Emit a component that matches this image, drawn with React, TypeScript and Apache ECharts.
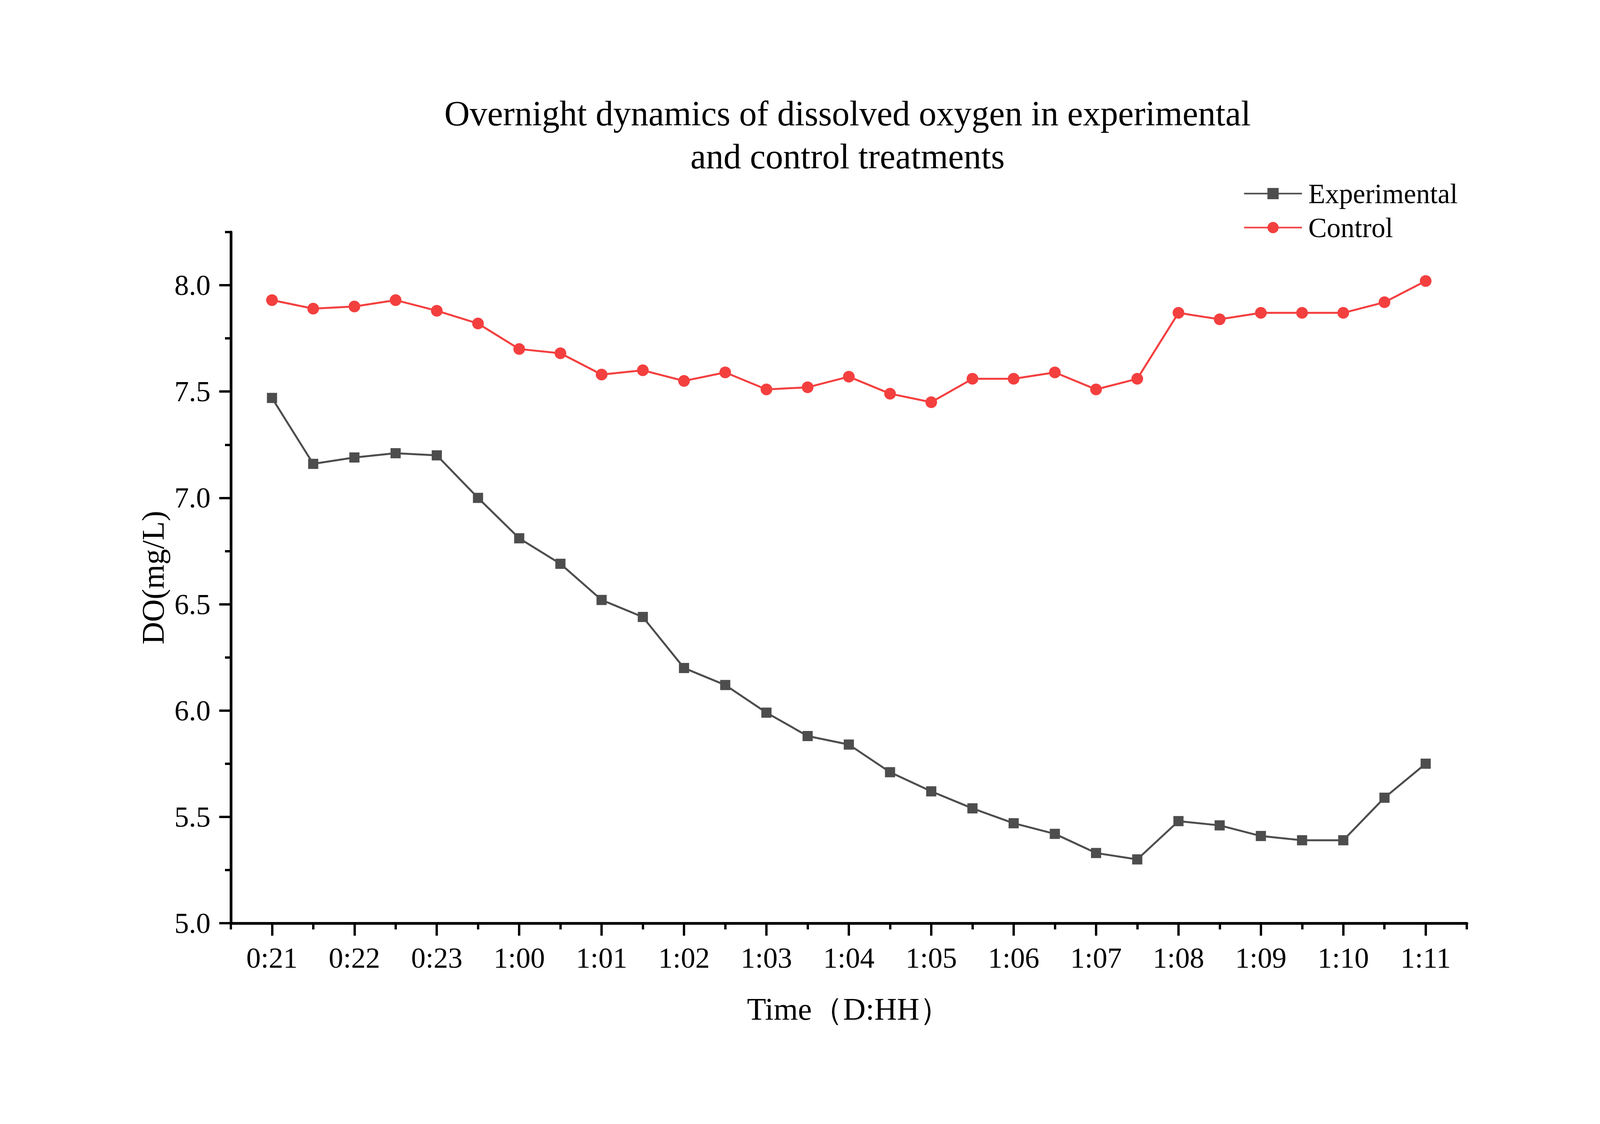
import React, { useEffect, useRef } from "react";
import * as echarts from "echarts";

const timeLabels = ["0:21", "0:22", "0:23", "1:00", "1:01", "1:02", "1:03", "1:04", "1:05", "1:06", "1:07", "1:08", "1:09", "1:10", "1:11"];

const experimental = [7.47, 7.16, 7.19, 7.21, 7.2, 7.0, 6.81, 6.69, 6.52, 6.44, 6.2, 6.12, 5.99, 5.88, 5.84, 5.71, 5.62, 5.54, 5.47, 5.42, 5.33, 5.3, 5.48, 5.46, 5.41, 5.39, 5.39, 5.59, 5.75];
const control = [7.93, 7.89, 7.9, 7.93, 7.88, 7.82, 7.7, 7.68, 7.58, 7.6, 7.55, 7.59, 7.51, 7.52, 7.57, 7.49, 7.45, 7.56, 7.56, 7.59, 7.51, 7.56, 7.87, 7.84, 7.87, 7.87, 7.87, 7.92, 8.02];

const xMajorTicks = [0, 2, 4, 6, 8, 10, 12, 14, 16, 18, 20, 22, 24, 26, 28];
const xMinorTicks = [-1, 1, 3, 5, 7, 9, 11, 13, 15, 17, 19, 21, 23, 25, 27, 29];
const yMajorTicks = [5.0, 5.5, 6.0, 6.5, 7.0, 7.5, 8.0];
const yMinorTicks = [5.25, 5.75, 6.25, 6.75, 7.25, 7.75, 8.25];

const FONT = "'Times New Roman', 'Liberation Serif', serif";
const GREY = "#4d4d4d";
const RED = "#f43f3f";
const REF_W = 4423;

export default function App() {
  const ref = useRef<HTMLDivElement>(null);
  const W = typeof window !== "undefined" ? window.innerWidth : REF_W;
  const H = typeof window !== "undefined" ? window.innerHeight : 2877;
  useEffect(() => {
    document.body.style.margin = "0";
    document.body.style.overflow = "hidden";
    const sx = W / REF_W;
    const chart = echarts.init(ref.current!, null, { renderer: "svg" });
    const axisLineStyle = { color: "#000", width: 7 };
    chart.setOption({
      animation: false,
      backgroundColor: "#fff",
      textStyle: { fontFamily: FONT, color: "#000" },
      title: {
        text: "Overnight dynamics of dissolved oxygen in experimental\nand control treatments",
        left: 2343 * sx,
        top: 235,
        padding: 0,
        textAlign: "center",
        textVerticalAlign: "top",
        textStyle: { fontFamily: FONT, fontSize: 90, fontWeight: "normal", color: "#000", lineHeight: 110 },
      },
      legend: {
        data: ["Experimental", "Control"],
        orient: "vertical",
        left: 3437 * sx,
        top: 460,
        itemWidth: 160 * sx,
        itemHeight: 36,
        itemGap: 16,
        padding: 0,
        lineStyle: { width: 4 },
        textStyle: { fontFamily: FONT, fontSize: 71, color: "#000", padding: [0, 0, 0, 12 * sx] },
      },
      grid: { left: 638 * sx, right: 368 * sx, top: 594, bottom: 514, containLabel: false },
      xAxis: [
        {
          type: "value",
          min: -1,
          max: 29,
          position: "bottom",
          name: "Time（D:HH）",
          nameLocation: "middle",
          nameGap: 180,
          nameTextStyle: { fontFamily: FONT, fontSize: 80, color: "#000" },
          axisLine: { show: true, onZero: false, lineStyle: axisLineStyle },
          axisTick: { show: true, inside: false, length: 32, customValues: xMajorTicks, lineStyle: { color: "#000", width: 6 } },
          axisLabel: {
            show: true,
            customValues: xMajorTicks,
            margin: 52,
            fontFamily: FONT,
            fontSize: 74,
            color: "#000",
            formatter: (v: number) => timeLabels[Math.round(v / 2)] ?? "",
          },
          splitLine: { show: false },
        },
        {
          type: "value",
          min: -1,
          max: 29,
          position: "bottom",
          axisLine: { show: false, onZero: false },
          axisTick: { show: true, inside: false, length: 16, customValues: xMinorTicks, lineStyle: { color: "#000", width: 6 } },
          axisLabel: { show: false },
          splitLine: { show: false },
        },
      ],
      yAxis: [
        {
          type: "value",
          min: 5,
          max: 8.25,
          position: "left",
          name: "DO(mg/L)",
          nameLocation: "middle",
          nameGap: 171 * sx,
          nameTextStyle: { fontFamily: FONT, fontSize: 80, color: "#000" },
          axisLine: { show: true, onZero: false, lineStyle: axisLineStyle },
          axisTick: { show: true, inside: false, length: 32 * sx, customValues: yMajorTicks, lineStyle: { color: "#000", width: 6 } },
          axisLabel: {
            show: true,
            customValues: yMajorTicks,
            margin: 56 * sx,
            fontFamily: FONT,
            fontSize: 74,
            color: "#000",
            formatter: (v: number) => v.toFixed(1),
          },
          splitLine: { show: false },
        },
        {
          type: "value",
          min: 5,
          max: 8.25,
          position: "left",
          axisLine: { show: false, onZero: false },
          axisTick: { show: true, inside: false, length: 16 * sx, customValues: yMinorTicks, lineStyle: { color: "#000", width: 6 } },
          axisLabel: { show: false },
          splitLine: { show: false },
        },
      ],
      series: [
        {
          name: "Experimental",
          type: "line",
          xAxisIndex: 0,
          yAxisIndex: 0,
          data: experimental.map((v, i) => [i, v]),
          symbol: "rect",
          symbolSize: 26,
          itemStyle: { color: GREY },
          lineStyle: { color: GREY, width: 5 },
        },
        {
          name: "Control",
          type: "line",
          xAxisIndex: 0,
          yAxisIndex: 0,
          data: control.map((v, i) => [i, v]),
          symbol: "circle",
          symbolSize: 30,
          itemStyle: { color: RED },
          lineStyle: { color: RED, width: 5 },
        },
      ],
    });
    return () => chart.dispose();
  }, []);
  return <div ref={ref} style={{ width: W, height: H }} />;
}
